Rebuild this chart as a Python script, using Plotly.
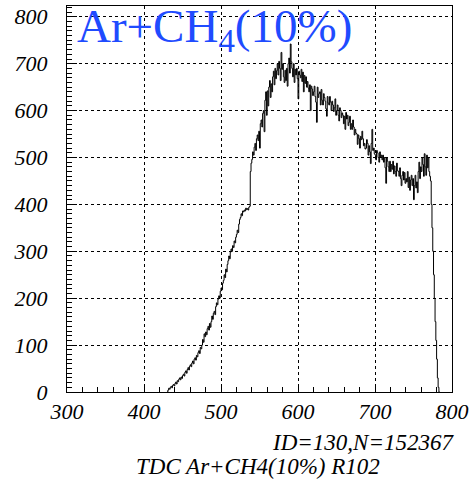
import numpy as np
import plotly.graph_objects as go

# TDC histogram, 1-channel bins starting at 430
bin_lo = 430
bin_w = 1
counts = [
    0, 4, 8, 6, 10, 12, 9, 14, 16, 13,
    18, 21, 17, 24, 22, 27, 30, 26, 32, 29,
    35, 38, 34, 42, 45, 40, 48, 52, 47, 55,
    58, 54, 62, 66, 60, 70, 73, 68, 78, 75,
    84, 88, 82, 95, 92, 100, 112, 106, 124, 118,
    128, 122, 135, 140, 132, 146, 138, 150, 162, 155,
    168, 172, 165, 182, 190, 186, 198, 205, 200, 215,
    222, 218, 232, 238, 250, 244, 262, 256, 272, 280,
    290, 284, 298, 305, 300, 312, 308, 322, 318, 330,
    336, 345, 340, 358, 368, 372, 380, 376, 386, 384,
    388, 386, 392, 389, 391, 388, 394, 396, 470, 488,
    496, 512, 505, 522, 530, 515, 540, 548, 536, 556,
    520, 572, 580, 565, 594, 600, 555, 622, 640, 590,
    642, 610, 650, 664, 628, 657, 640, 672, 684, 655,
    690, 668, 685, 700, 676, 705, 690, 664, 724, 688,
    700, 672, 660, 686, 664, 690, 652, 700, 712, 680,
    742, 704, 690, 672, 700, 660, 688, 676, 690, 668,
    625, 684, 676, 670, 688, 662, 682, 640, 675, 658,
    672, 650, 662, 648, 640, 655, 600, 652, 646, 632,
    640, 652, 630, 618, 575, 650, 628, 636, 640, 612,
    645, 622, 612, 636, 628, 620, 604, 588, 630, 616,
    612, 630, 618, 600, 620, 612, 598, 606, 625, 590,
    600, 612, 590, 578, 606, 600, 585, 595, 590, 572,
    588, 560, 596, 582, 590, 568, 575, 588, 560, 572,
    560, 580, 565, 548, 560, 552, 550, 528, 548, 540,
    520, 545, 538, 556, 540, 525, 530, 518, 520, 538,
    530, 505, 525, 512, 487, 530, 560, 515, 520, 508,
    505, 495, 515, 510, 500, 490, 512, 500, 505, 495,
    505, 490, 500, 478, 445, 500, 492, 480, 470, 492,
    470, 485, 475, 492, 465, 482, 470, 460, 488, 472,
    470, 460, 478, 455, 440, 462, 470, 452, 468, 445,
    455, 448, 470, 436, 458, 430, 452, 462, 440, 455,
    410, 440, 462, 435, 448, 425, 470, 490, 455, 480,
    470, 500, 485, 460, 508, 480, 462, 505, 478, 500,
    470, 460, 450, 400, 350, 300, 250, 200, 150, 110,
    70, 30, 10, 0,
]

x_ticks = [300, 400, 500, 600, 700, 800]
y_ticks = [0, 100, 200, 300, 400, 500, 600, 700, 800]

edges = bin_lo + bin_w * np.arange(len(counts) + 1)
xs = np.concatenate([[bin_lo], edges])
ys = np.concatenate([[0], counts, [0]])

serif = "Liberation Serif"
font_lbl = dict(family=serif, size=22, color="black")

fig = go.Figure()
fig.add_trace(go.Scatter(
    x=xs, y=ys, mode="lines", line_shape="hv",
    line=dict(color="black", width=1), showlegend=False,
))

fig.update_layout(
    width=474, height=481,
    margin=dict(l=67, r=20, t=5, b=89),
    paper_bgcolor="white", plot_bgcolor="white",
)
fig.update_xaxes(
    range=[300, 800], tickvals=x_ticks,
    ticktext=[f"<i>{v}</i>" for v in x_ticks],
    ticks="inside", ticklen=8, tickcolor="black",
    minor=dict(dtick=20, ticks="inside", ticklen=5, tickcolor="black", showgrid=False),
    showline=True, linecolor="black", linewidth=1, mirror=True,
    showgrid=True, gridcolor="black", griddash="dot", gridwidth=1,
    zeroline=False, tickfont=font_lbl,
)
fig.update_yaxes(
    range=[0, 823], tickvals=y_ticks,
    ticktext=[f"<i>{v}</i>" for v in y_ticks],
    ticks="inside", ticklen=10, tickcolor="black",
    minor=dict(dtick=10, ticks="inside", ticklen=5, tickcolor="black", showgrid=False),
    showline=True, linecolor="black", linewidth=1, mirror=True,
    showgrid=True, gridcolor="black", griddash="dot", gridwidth=1,
    zeroline=False, tickfont=font_lbl, ticklabelstandoff=14,
)

fig.add_annotation(
    text="Ar+CH<sub>4</sub>(10%)", xref="paper", yref="paper",
    x=0.022, y=1.02, xanchor="left", yanchor="top", showarrow=False,
    font=dict(family=serif, size=47, color="#1f4bff"),
)
fig.add_annotation(
    text="<i>ID=130,N=152367</i>", xref="paper", yref="paper",
    x=1.01, y=-0.132, xanchor="right", yanchor="middle", showarrow=False,
    font=dict(family=serif, size=23, color="black"),
)
fig.add_annotation(
    text="<i>TDC Ar+CH4(10%) R102</i>", xref="paper", yref="paper",
    x=0.497, y=-0.194, xanchor="center", yanchor="middle", showarrow=False,
    font=dict(family=serif, size=23, color="black"),
)

fig.write_html("out.html", config={"displayModeBar": False},
               post_script="document.body.style.margin='0';")
